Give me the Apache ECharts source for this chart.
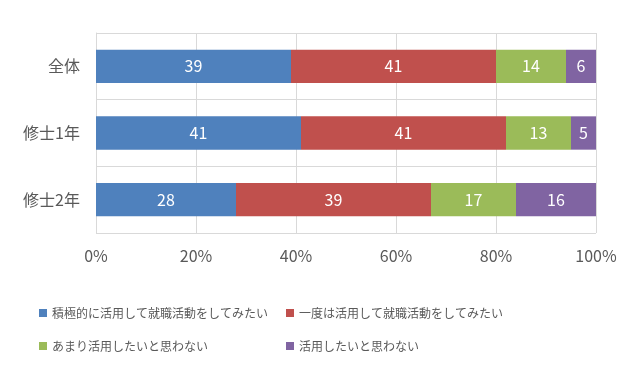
<!DOCTYPE html>
<html lang="ja">
<head>
<meta charset="utf-8">
<title>chart</title>
<script src="https://cdn.jsdelivr.net/npm/echarts@6/dist/echarts.min.js"></script>
<style>
  html, body { margin: 0; padding: 0; background: #fff; }
  #chart { width: 627px; height: 376px; }
</style>
</head>
<body>
<div id="chart"></div>
<script>
// データ
var categories = ['全体', '修士1年', '修士2年'];
var seriesNames = [
    '積極的に活用して就職活動をしてみたい',
    '一度は活用して就職活動をしてみたい',
    'あまり活用したいと思わない',
    '活用したいと思わない'
];
var vActive = [39, 41, 28];
var vOnce = [41, 41, 39];
var vNotMuch = [14, 13, 17];
var vNot = [6, 5, 16];
var xTicks = [0, 20, 40, 60, 80, 100];

var colors = ['#4F81BD', '#C0504D', '#9BBB59', '#8064A2'];
var font = '"Noto Sans CJK JP", "Noto Sans", sans-serif';
var textColor = '#595959';

var chart = echarts.init(document.getElementById('chart'));

function makeSeries(name, data) {
    return {
        name: name,
        type: 'bar',
        stack: 'total',
        barWidth: '50%',
        data: data,
        label: {
            show: true,
            position: 'inside',
            color: '#fff',
            fontSize: 16,
            fontFamily: font
        }
    };
}

var legendText = { color: textColor, fontSize: 12, fontFamily: font, lineHeight: 18 };

var option = {
    color: colors,
    animation: false,
    textStyle: { fontFamily: font },
    grid: { left: 96, right: 31, top: 33, bottom: 143 },
    legend: [
        {
            data: [seriesNames[0], seriesNames[2]],
            orient: 'vertical',
            left: 34, top: 299,
            itemWidth: 8, itemHeight: 8, itemGap: 15,
            icon: 'rect',
            textStyle: legendText
        },
        {
            data: [seriesNames[1], seriesNames[3]],
            orient: 'vertical',
            left: 281, top: 299,
            itemWidth: 8, itemHeight: 8, itemGap: 15,
            icon: 'rect',
            textStyle: legendText
        }
    ],
    xAxis: {
        type: 'value',
        min: xTicks[0],
        max: xTicks[xTicks.length - 1],
        interval: 20,
        axisLine: { show: false },
        axisTick: { show: false },
        splitLine: { lineStyle: { color: '#d9d9d9' } },
        axisLabel: {
            formatter: '{value}%',
            color: textColor,
            fontSize: 16,
            margin: 15,
            fontFamily: font
        }
    },
    yAxis: {
        type: 'category',
        data: categories,
        inverse: true,
        axisLine: { show: true, lineStyle: { color: '#d9d9d9' } },
        axisTick: { show: false },
        splitLine: { show: true, lineStyle: { color: '#d9d9d9' } },
        axisLabel: {
            color: textColor,
            fontSize: 16,
            margin: 16,
            fontFamily: font
        }
    },
    series: [
        makeSeries(seriesNames[0], vActive),
        makeSeries(seriesNames[1], vOnce),
        makeSeries(seriesNames[2], vNotMuch),
        makeSeries(seriesNames[3], vNot)
    ]
};

chart.setOption(option);
</script>
</body>
</html>
